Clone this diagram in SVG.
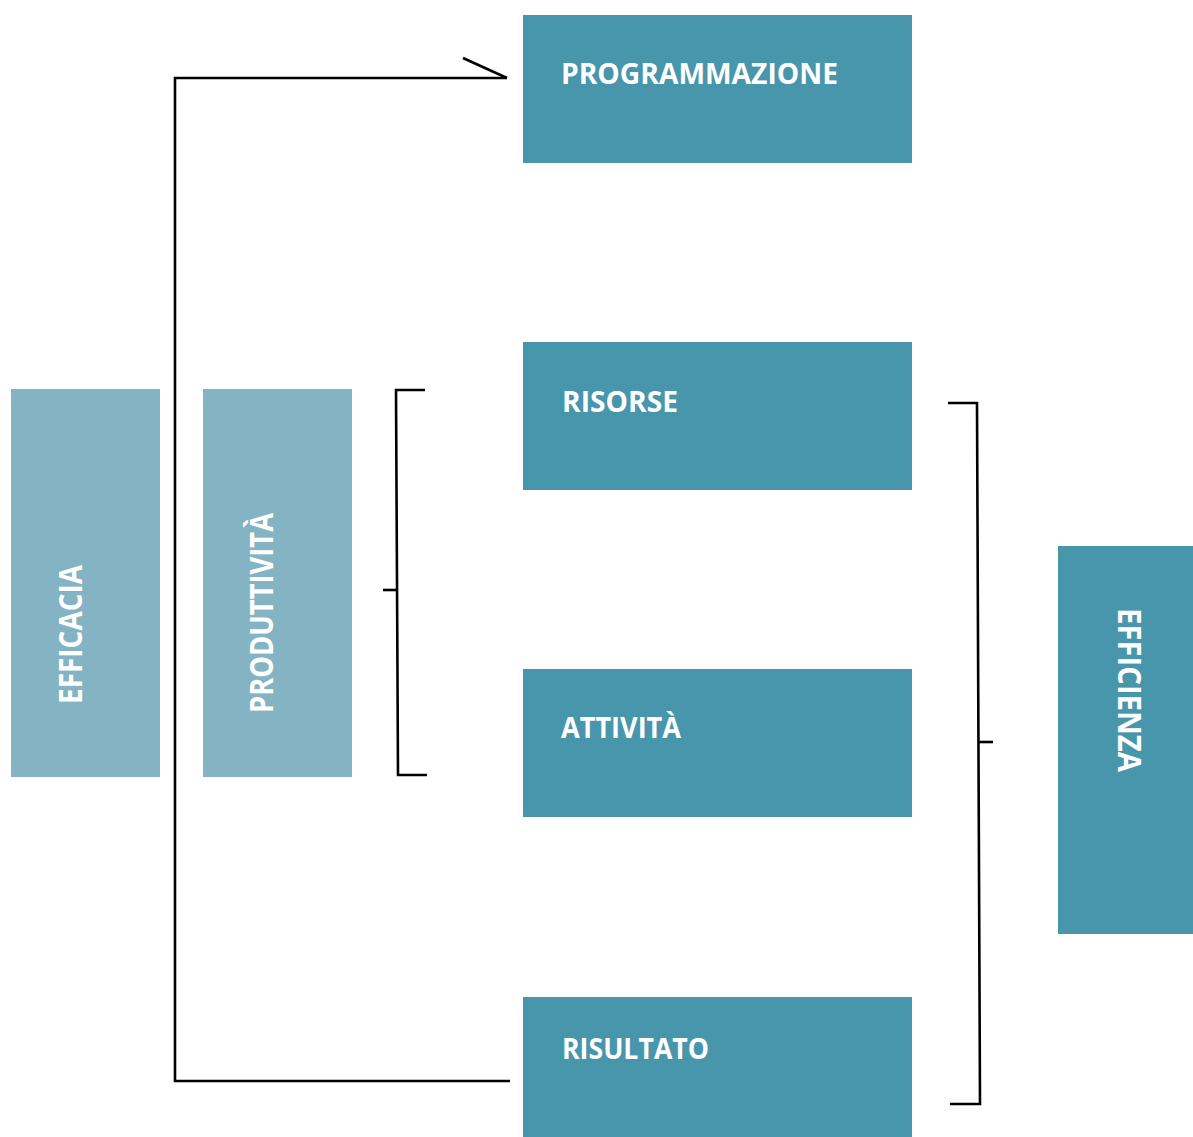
<svg xmlns="http://www.w3.org/2000/svg" width="1193" height="1137" viewBox="0 0 1193 1137">
<style>
.dark{fill:#4796ac}
.light{fill:#84b4c4}
.lbl{font-family:"Open Sans","Liberation Sans",sans-serif;font-weight:700;fill:#ffffff;font-size:29px}
.vlbl{font-family:"Open Sans","Liberation Sans",sans-serif;font-weight:700;fill:#ffffff;font-size:33px}
.ln{fill:none;stroke:#000000;stroke-width:2.6;stroke-linejoin:miter;stroke-linecap:butt}
</style>
<rect width="1193" height="1137" fill="#ffffff"/>
<g id="connectors">
<path class="ln" d="M510,1081 H175 V78 H507"/>
<path class="ln" d="M463,58 L507,78"/>
<path class="ln" d="M425,390 H396 L398,775 H427"/>
<path class="ln" d="M383,590 H397"/>
<path class="ln" d="M948,403 H977 L980,1104 H950"/>
<path class="ln" d="M979,742 H993"/>
</g>
<g id="programmazione">
<rect class="dark" x="523" y="15" width="389" height="148"/>
<text class="lbl" x="561" y="84" textLength="277" lengthAdjust="spacingAndGlyphs">PROGRAMMAZIONE</text>
</g>
<g id="risorse">
<rect class="dark" x="523" y="342" width="389" height="148"/>
<text class="lbl" x="562" y="412" textLength="116" lengthAdjust="spacingAndGlyphs">RISORSE</text>
</g>
<g id="attivita">
<rect class="dark" x="523" y="669" width="389" height="148"/>
<text class="lbl" x="561" y="738" textLength="120" lengthAdjust="spacingAndGlyphs">ATTIVITÀ</text>
</g>
<g id="risultato">
<rect class="dark" x="523" y="997" width="389" height="140"/>
<text class="lbl" x="562" y="1059" textLength="147" lengthAdjust="spacingAndGlyphs">RISULTATO</text>
</g>
<g id="efficacia">
<rect class="light" x="11" y="389" width="149" height="388"/>
<text class="vlbl" transform="translate(82,704) rotate(-90)" x="0" y="0" textLength="139" lengthAdjust="spacingAndGlyphs">EFFICACIA</text>
</g>
<g id="produttivita">
<rect class="light" x="203" y="389" width="149" height="388"/>
<text class="vlbl" transform="translate(273,713) rotate(-90)" x="0" y="0" textLength="200" lengthAdjust="spacingAndGlyphs">PRODUTTIVITÀ</text>
</g>
<g id="efficienza">
<rect class="dark" x="1058" y="546" width="135" height="388"/>
<text class="vlbl" transform="translate(1118,608) rotate(90)" x="0" y="0" textLength="164" lengthAdjust="spacingAndGlyphs">EFFICIENZA</text>
</g>
</svg>
